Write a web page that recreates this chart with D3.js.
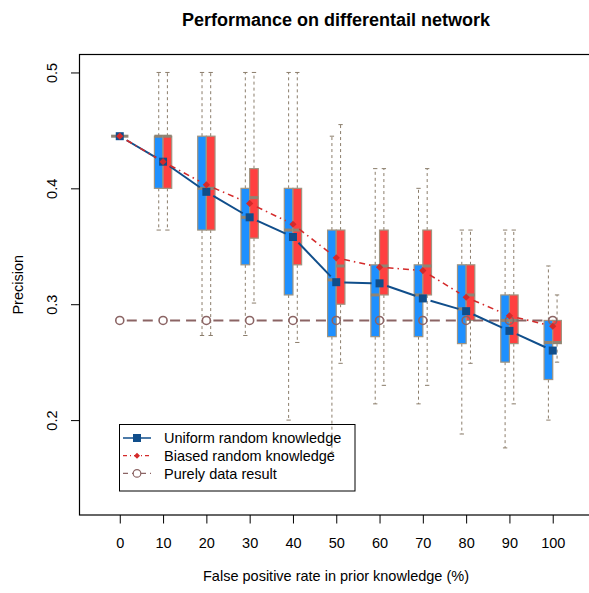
<!DOCTYPE html>
<html><head><meta charset="utf-8">
<script src="https://cdn.jsdelivr.net/npm/d3@7"></script>
<style>body{margin:0;background:#fff}svg{display:block}text{font-family:"Liberation Sans",Arial,sans-serif}</style>
</head><body><svg id="c" width="589" height="593"></svg>
<script>
const rates = [0,10,20,30,40,50,60,70,80,90,100];
const tickLabels = ["0","10","20","30","40","50","60","70","80","90","100"];
const yTicks = [0.2,0.3,0.4,0.5];
// [whiskerLow, q1, median, q3, whiskerHigh]
const uniformBoxes = [
  [0.445,0.445,0.445,0.445,0.445],
  [0.364,0.400,0.445,0.445,0.500],
  [0.273,0.364,0.400,0.445,0.500],
  [0.273,0.334,0.375,0.400,0.500],
  [0.200,0.308,0.364,0.400,0.500],
  [0.172,0.272,0.321,0.364,0.445],
  [0.214,0.272,0.308,0.334,0.417],
  [0.214,0.272,0.308,0.334,0.400],
  [0.188,0.266,0.296,0.334,0.364],
  [0.176,0.250,0.286,0.308,0.364],
  [0.200,0.235,0.267,0.286,0.333]
];
const biasedBoxes = [
  [0.445,0.445,0.445,0.445,0.445],
  [0.364,0.400,0.445,0.445,0.500],
  [0.273,0.364,0.400,0.445,0.500],
  [0.301,0.357,0.392,0.417,0.500],
  [0.267,0.334,0.364,0.400,0.500],
  [0.249,0.300,0.333,0.364,0.455],
  [0.230,0.308,0.333,0.364,0.417],
  [0.230,0.308,0.333,0.364,0.417],
  [0.249,0.286,0.308,0.334,0.364],
  [0.214,0.266,0.286,0.308,0.364],
  [0.250,0.266,0.267,0.286,0.308]
];
const uniformMeans = [0.445,0.423,0.397,0.375,0.358,0.319,0.318,0.305,0.294,0.277,0.260];
const biasedMeans  = [0.445,0.423,0.403,0.387,0.369,0.340,0.332,0.329,0.306,0.290,0.281];
const pureData     = [0.286,0.286,0.286,0.286,0.286,0.286,0.286,0.286,0.286,0.286,0.286];
const legendLabels = ["Uniform random knowledge","Biased random knowledge","Purely data result"];

const svg = d3.select("#c");
const L=79.5, R=593, T=54.5, B=515;
const x = d3.scaleLinear().domain([-9.3,109.3]).range([L,R]);
const y = d3.scaleLinear().domain([0.1181,0.5155]).range([B,T]);

const blueFill="#1E90FF", redFill="#FF4040", boxStroke="#A09480", medCol="#8F8474", whiskCol="#8B7D6B";
const blueLine="#104E8B", redLine="#D42A2A", pureCol="#8B6464";

// boxes
function drawBox(g, d, cx, fill, side){
  const w = x(2)-x(0);
  const x0 = side<0 ? x(cx)-w : x(cx);
  const wx = x0 + w/2;
  const cap = w*0.25;
  // whiskers
  g.append("line").attr("x1",wx).attr("x2",wx).attr("y1",y(d[3])).attr("y2",y(d[4]))
    .attr("stroke",whiskCol).attr("stroke-dasharray","3,3").attr("stroke-width",1);
  g.append("line").attr("x1",wx).attr("x2",wx).attr("y1",y(d[1])).attr("y2",y(d[0]))
    .attr("stroke",whiskCol).attr("stroke-dasharray","3,3").attr("stroke-width",1);
  [d[0],d[4]].forEach(v=>g.append("line").attr("x1",wx-cap).attr("x2",wx+cap).attr("y1",y(v)).attr("y2",y(v))
    .attr("stroke",whiskCol).attr("stroke-width",1));
  g.append("rect").attr("x",x0).attr("width",w).attr("y",y(d[3])).attr("height",Math.max(0,y(d[1])-y(d[3])))
    .attr("fill",fill).attr("stroke",boxStroke).attr("stroke-width",1.2);
  g.append("line").attr("x1",x0).attr("x2",x0+w).attr("y1",y(d[2])).attr("y2",y(d[2]))
    .attr("stroke",medCol).attr("stroke-width",3);
}
const gb = svg.append("g");
rates.forEach((r,i)=>{ drawBox(gb, uniformBoxes[i], r, blueFill, -1); drawBox(gb, biasedBoxes[i], r, redFill, 1); });

// lines with gaps (type "b")
function gappedLine(vals, color, dash, width, gap){
  const g = svg.append("g");
  for(let i=0;i<vals.length-1;i++){
    const x1=x(rates[i]), y1=y(vals[i]), x2=x(rates[i+1]), y2=y(vals[i+1]);
    const len=Math.hypot(x2-x1,y2-y1);
    if(len<=2*gap) continue;
    const ux=(x2-x1)/len, uy=(y2-y1)/len;
    g.append("line").attr("x1",x1+ux*gap).attr("y1",y1+uy*gap).attr("x2",x2-ux*gap).attr("y2",y2-uy*gap)
      .attr("stroke",color).attr("stroke-width",width).attr("stroke-dasharray",dash);
  }
  return g;
}
const diamond = d3.symbol().type(d3.symbolDiamond2 || d3.symbolDiamond).size(40);

// pure data
gappedLine(pureData,pureCol,"10,6",2,7);
svg.append("g").selectAll("circle").data(pureData).join("circle")
  .attr("cx",(d,i)=>x(rates[i])).attr("cy",d=>y(d)).attr("r",4)
  .attr("fill","none").attr("stroke",pureCol).attr("stroke-width",1.6);
// uniform
gappedLine(uniformMeans,blueLine,null,2,8);
svg.append("g").selectAll("rect").data(uniformMeans).join("rect")
  .attr("x",(d,i)=>x(rates[i])-4).attr("y",d=>y(d)-4).attr("width",8).attr("height",8)
  .attr("fill",blueLine);
// biased
gappedLine(biasedMeans,redLine,"6,4,1.5,4",1.6,8);
svg.append("g").selectAll("path").data(biasedMeans).join("path")
  .attr("d",d3.symbol().type(d3.symbolSquare).size(26))
  .attr("transform",(d,i)=>`translate(${x(rates[i])},${y(d)}) rotate(45)`)
  .attr("fill",redLine);

// frame
svg.append("rect").attr("x",L).attr("y",T).attr("width",R-L).attr("height",B-T)
  .attr("fill","none").attr("stroke","#000").attr("stroke-width",1.2);

// x axis
const xa = svg.append("g").attr("transform",`translate(0,${B})`)
  .call(d3.axisBottom(x).tickValues(rates).tickFormat((d,i)=>tickLabels[i]).tickSize(8.5).tickPadding(15));
xa.select(".domain").remove();
xa.selectAll("text").attr("font-size","14.5px").attr("fill","#000").attr("font-family","Liberation Sans, Arial").attr("dy","0");
xa.selectAll("text").attr("y",33);
xa.selectAll("line").attr("stroke","#000");
// y axis
const ya = svg.append("g").attr("transform",`translate(${L},0)`)
  .call(d3.axisLeft(y).tickValues(yTicks).tickFormat(d3.format(".1f")).tickSize(8.5));
ya.select(".domain").remove();
ya.selectAll("line").attr("stroke","#000");
ya.selectAll("text").attr("font-size","14.5px").attr("fill","#000").attr("font-family","Liberation Sans, Arial")
  .attr("text-anchor","middle").attr("dy","0").attr("x",0).attr("y",0)
  .attr("transform","translate(-23,0) rotate(-90)");

// labels
svg.append("text").attr("x",336).attr("y",26).attr("text-anchor","middle")
  .attr("font-weight","bold").attr("font-size","18px").text("Performance on differentail network");
svg.append("text").attr("x",336).attr("y",581).attr("text-anchor","middle")
  .attr("font-size","14.5px").text("False positive rate in prior knowledge (%)");
svg.append("text").attr("transform",`translate(23,${(T+B)/2}) rotate(-90)`).attr("text-anchor","middle")
  .attr("font-size","14.5px").text("Precision");

// legend
const lg = svg.append("g");
lg.append("rect").attr("x",119.5).attr("y",424.5).attr("width",235.5).attr("height",66.5)
  .attr("fill","none").attr("stroke","#000").attr("stroke-width",1);
const rowY=[438,455.7,473.4];
const lx1=123, lx2=151, lmx=137;
// row 1
lg.append("line").attr("x1",lx1).attr("x2",lx2).attr("y1",rowY[0]).attr("y2",rowY[0]).attr("stroke",blueLine).attr("stroke-width",1.5);
lg.append("rect").attr("x",lmx-4).attr("y",rowY[0]-4).attr("width",8).attr("height",8).attr("fill",blueLine);
// row 2
lg.append("line").attr("x1",lx1).attr("x2",lx2).attr("y1",rowY[1]).attr("y2",rowY[1]).attr("stroke",redLine).attr("stroke-width",1.2).attr("stroke-dasharray","4,3,1,3");
lg.append("path").attr("d",d3.symbol().type(d3.symbolSquare).size(18)).attr("transform",`translate(${lmx},${rowY[1]}) rotate(45)`).attr("fill",redLine);
// row 3
lg.append("line").attr("x1",lx1).attr("x2",lx2).attr("y1",rowY[2]).attr("y2",rowY[2]).attr("stroke",pureCol).attr("stroke-width",1.2).attr("stroke-dasharray","5,4");
lg.append("circle").attr("cx",lmx).attr("cy",rowY[2]).attr("r",3.8).attr("fill","#fff").attr("stroke",pureCol).attr("stroke-width",1.2);
legendLabels.forEach((t,i)=>lg.append("text").attr("x",164).attr("y",rowY[i]+5.2).attr("font-size","14.5px").text(t));
</script></body></html>
